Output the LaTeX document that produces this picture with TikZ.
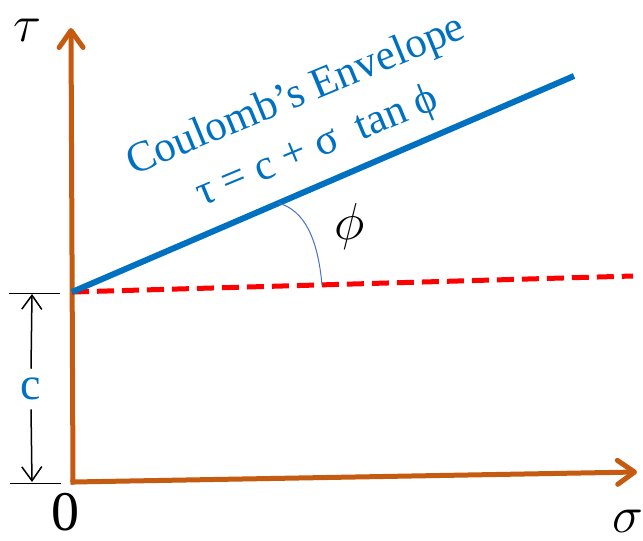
\RequirePackage{fix-cm}
\documentclass[tikz,border=0pt]{standalone}
\usepackage{fontspec}
\setmainfont{Liberation Serif}
\usetikzlibrary{arrows.meta,positioning}
\definecolor{axisorange}{HTML}{C55A11}
\definecolor{envblue}{HTML}{0070C0}
\definecolor{arcblue}{HTML}{4472C4}

\begin{document}
\begin{tikzpicture}[x=1pt,y=-1pt,
    axis/.style={draw=axisorange, line width=5pt, line cap=rect, -{Straight Barb[length=17pt,width=24pt,round]}},
    envelope/.style={draw=envblue, line width=6pt},
    cutline/.style={draw=red, line width=5pt, dash pattern=on 17pt off 8pt},
    dimarr/.style={draw=black, line width=1.5pt, -{Straight Barb[length=14pt,width=20pt]}},
    ticks/.style={draw=black, line width=1pt},
    axlbl/.style={font=\fontsize{52}{52}\selectfont, inner sep=0pt},
    envtext/.style={font=\fontsize{43}{55}\selectfont, text=envblue, align=center, inner sep=0pt}
]
\useasboundingbox (0,0) rectangle (643,541);

% axes
\coordinate (O) at (73,482);
\coordinate (ytip) at (71,28);
\coordinate (xtip) at (637,472);
\draw[axis] (O) -- (ytip);
\draw[axis] (O) -- (xtip);

\node[axlbl] (taulbl) at (27,30) {$\tau$};
\node[axlbl] (sigmalbl) at (628,521) {$\sigma$};
\node[axlbl, font=\fontsize{56}{56}\selectfont] (zero) at (65,512) {0};

% envelope and horizontal
\coordinate (C) at (72,292);
\coordinate (envend) at (574,76);
\coordinate (hend) at (633,276);
\draw[cutline] (C) -- (hend);
\draw[envelope] (C) -- (envend);

\node[envtext, rotate=22.5] (envlbl) at (307,122) {Coulomb’s Envelope\\τ = c + σ\enspace tan ϕ};

% friction angle
\draw[arcblue, line width=1pt] (278,203) .. controls (305,210) and (318,240) .. (322,285);
\node[axlbl] (philbl) at (350,226) {$\phi$};

% cohesion
\draw[ticks] (9,293) -- (60,293);
\draw[ticks] (10,483) -- (61,483);
\coordinate (ctop) at (32,294);
\coordinate (cbot) at (32,482);
\node[font=\fontsize{46}{46}\selectfont, text=envblue, inner sep=9pt] (clbl) at (31,389) {c};
\draw[dimarr] (clbl.north) -- (ctop);
\draw[dimarr] (clbl.south) -- (cbot);
\end{tikzpicture}
\end{document}
